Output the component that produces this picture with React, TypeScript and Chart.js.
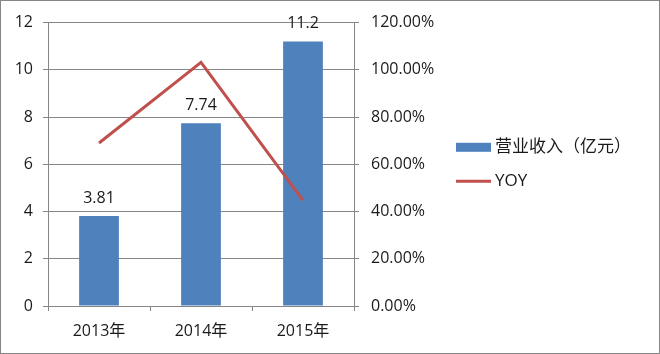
import { useEffect, useRef } from 'react';
import { Chart, registerables } from 'chart.js';

Chart.register(...registerables);

const categories = ['2013年', '2014年', '2015年'];
const revenue = [3.81, 7.74, 11.2];
const yoy = [0.69, 1.032, 0.447];
const revenueLabel = '营业收入（亿元）';
const yoyLabel = 'YOY';
const leftMax = 12;
const leftStep = 2;
const rightMax = 1.2;
const rightStep = 0.2;

const FONT = "'Open Sans', 'Noto Sans CJK SC', sans-serif";
const TEXT = '#1a1a1a';
const GRID = '#868686';
const BAR = '#4F81BD';
const LINE = '#C0504D';

const barLabels = {
  id: 'barLabels',
  afterDatasetsDraw(chart: any) {
    const idx = chart.data.datasets.findIndex((d: any) => d.type === 'bar');
    const meta = chart.getDatasetMeta(idx);
    const ctx = chart.ctx;
    ctx.save();
    ctx.font = `16px ${FONT}`;
    ctx.fillStyle = TEXT;
    ctx.textAlign = 'center';
    ctx.textBaseline = 'middle';
    meta.data.forEach((el: any, i: number) => {
      const { x, y } = el.getProps(['x', 'y'], true);
      ctx.fillText(String(chart.data.datasets[idx].data[i]), x, y - 18);
    });
    ctx.restore();
  },
};

const customLegend = {
  id: 'customLegend',
  afterDraw(chart: any) {
    const ctx = chart.ctx;
    const x0 = chart.chartArea.right + 102;
    const yMid = (chart.chartArea.top + chart.chartArea.bottom) / 2;
    ctx.save();
    ctx.font = `17px ${FONT}`;
    ctx.fillStyle = TEXT;
    ctx.textAlign = 'left';
    ctx.textBaseline = 'middle';
    const barDs = chart.data.datasets.find((d: any) => d.type === 'bar');
    const lineDs = chart.data.datasets.find((d: any) => d.type === 'line');
    const y1 = yMid - 17;
    ctx.fillStyle = barDs.backgroundColor;
    ctx.fillRect(x0, y1 - 4.5, 35, 9);
    ctx.fillStyle = TEXT;
    ctx.fillText(barDs.label, x0 + 39, y1);
    const y2 = yMid + 17;
    ctx.strokeStyle = lineDs.borderColor;
    ctx.lineWidth = 3;
    ctx.beginPath();
    ctx.moveTo(x0, y2);
    ctx.lineTo(x0 + 35, y2);
    ctx.stroke();
    ctx.fillText(lineDs.label, x0 + 39, y2);
    ctx.restore();
  },
};

export default function App() {
  const ref = useRef<HTMLCanvasElement>(null);
  useEffect(() => {
    if (!ref.current) return;
    const chart = new Chart(ref.current, {
      type: 'bar',
      data: {
        labels: categories,
        datasets: [
          {
            type: 'bar',
            label: revenueLabel,
            data: revenue,
            backgroundColor: BAR,
            yAxisID: 'y',
            order: 1,
            categoryPercentage: 1,
            barPercentage: 0.39,
          },
          {
            type: 'line',
            label: yoyLabel,
            data: yoy,
            borderColor: LINE,
            backgroundColor: LINE,
            borderWidth: 3,
            pointRadius: 0,
            tension: 0,
            yAxisID: 'y1',
            order: 0,
          },
        ] as any,
      },
      options: {
        responsive: false,
        animation: false,
        layout: { padding: { left: 0, top: 20, right: 205, bottom: 0 } },
        plugins: {
          legend: { display: false },
          tooltip: { enabled: false },
        },
        scales: {
          x: {
            grid: { drawOnChartArea: false, color: GRID, tickLength: 5, offset: true },
            border: { color: GRID },
            ticks: { font: { family: FONT, size: 16 }, color: TEXT, padding: 11 },
            afterFit(s: any) {
              s.height = 47;
            },
          },
          y: {
            position: 'left',
            min: 0,
            max: leftMax,
            ticks: { stepSize: leftStep, font: { family: FONT, size: 16 }, color: TEXT, padding: 10 },
            grid: { color: GRID, tickLength: 5 },
            border: { color: GRID },
            afterFit(s: any) {
              s.width = 47;
            },
          },
          y1: {
            position: 'right',
            min: 0,
            max: rightMax,
            ticks: {
              stepSize: rightStep,
              font: { family: FONT, size: 16 },
              color: TEXT,
              padding: 12,
              callback: (v: any) => (Number(v) * 100).toFixed(2) + '%',
            },
            grid: { drawOnChartArea: false, color: GRID, tickLength: 5 },
            border: { color: GRID },
            afterFit(s: any) {
              s.width = 100;
            },
          },
        },
      } as any,
      plugins: [barLabels, customLegend],
    });
    return () => chart.destroy();
  }, []);

  return (
    <div
      style={{
        position: 'absolute',
        left: 0,
        top: 0,
        width: 660,
        height: 354,
        boxSizing: 'border-box',
        border: '1px solid #868686',
        background: '#fff',
      }}
    >
      <canvas ref={ref} width={658} height={352} style={{ display: 'block' }} />
    </div>
  );
}
